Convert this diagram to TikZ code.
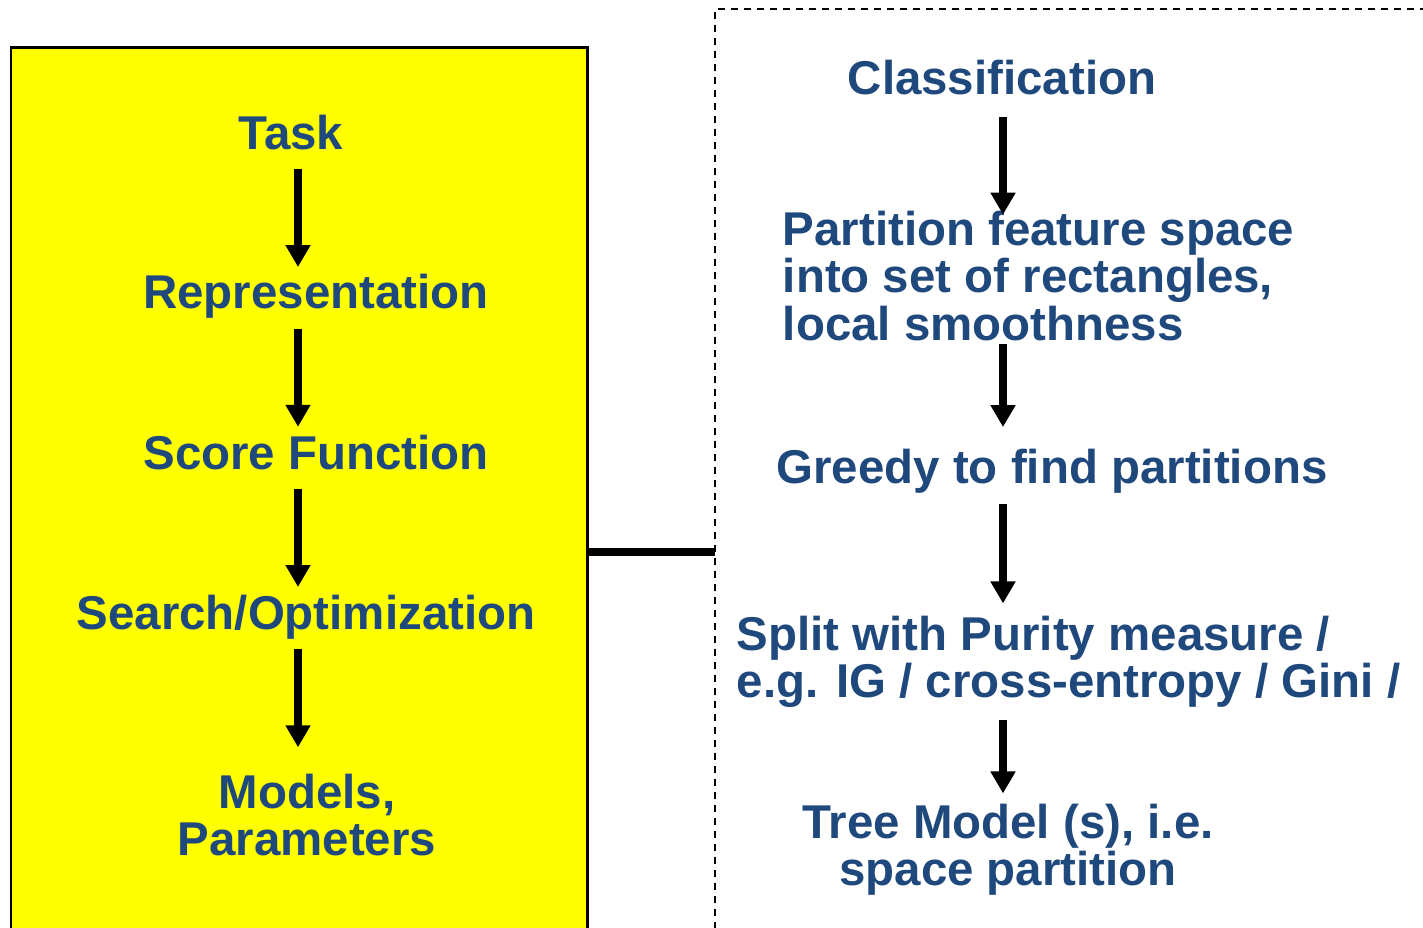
\documentclass[tikz,border=0pt]{standalone}
\usepackage{fontspec}
\setmainfont{Liberation Sans}
\usetikzlibrary{positioning,arrows.meta}
\definecolor{stepblue}{RGB}{31,73,125}
\definecolor{panelyellow}{RGB}{255,255,0}

\begin{document}
\begin{tikzpicture}[
  x=0.02cm, y=-0.02cm,
  every node/.style={text=stepblue, font=\fontsize{27}{26.8}\selectfont\bfseries, inner sep=2pt},
  flow/.style={line width=4.2pt, -{Triangle[width=13.5pt,length=12.5pt]}},
  panel/.style={draw, line width=1.7pt, fill=panelyellow},
  frame/.style={draw, line width=1.1pt, dash pattern=on 4pt off 3.4pt},
  joint/.style={line width=4pt}
]
\useasboundingbox (0,0) rectangle (1423,928);
\clip (0,0) rectangle (1423,928);

% yellow panel and dashed frame
\draw[panel] (11,48) rectangle (587,960);
\draw[frame] (1440,9) -- (715,9) -- (715,960);
\coordinate (panelE) at (587,552);
\coordinate (frameW) at (715,552);
\draw[joint] (panelE) -- (frameW);

% column lines for the arrows
\coordinate (lcol) at (298,0);
\coordinate (rcol) at (1003,0);

\node (task) at (291,133) {Task};
\node (rep) at (316,296) {Representation};
\node (score) at (316,453) {Score Function};
\node (search) at (306,617) {Search/Optimization};
\node[align=center] (models) at (307,815) {Models,\\Parameters};

\node (cls) at (1002,78) {Classification};
\node[anchor=west, align=left] (part) at (779,276) {Partition feature space\\into set of rectangles,\\local smoothness};
\node (greedy) at (1052,471) {Greedy to find partitions};
\node[anchor=west, align=left] (split) at (733,662) {Split with Purity measure /\\e.g. IG / cross-entropy / Gini /};
\node[align=center] (tree) at (1008,850) {Tree Model (s), i.e.\\space partition};

\draw[flow, shorten <=8.5pt, shorten >=1.7pt] (task.south -| lcol) -- (rep.north -| lcol);
\draw[flow, shorten <=4pt, shorten >=2.8pt] (rep.south -| lcol) -- (score.north -| lcol);
\draw[flow, shorten <=8.5pt, shorten >=2.3pt] (score.south -| lcol) -- (search.north -| lcol);
\draw[flow, shorten <=3.4pt, shorten >=13pt] (search.south -| lcol) -- (models.north -| lcol);

\draw[flow, shorten <=10.2pt, shorten >=-4pt] (cls.south -| rcol) -- (part.north -| rcol);
\draw[flow, shorten >=10.2pt] (part.south -| rcol) -- (greedy.north -| rcol);
\draw[flow, shorten <=4pt, shorten >=5.1pt] (greedy.south -| rcol) -- (split.north -| rcol);
\draw[flow, shorten <=4.6pt, shorten >=4pt] (split.south -| rcol) -- (tree.north -| rcol);
\end{tikzpicture}
\end{document}
